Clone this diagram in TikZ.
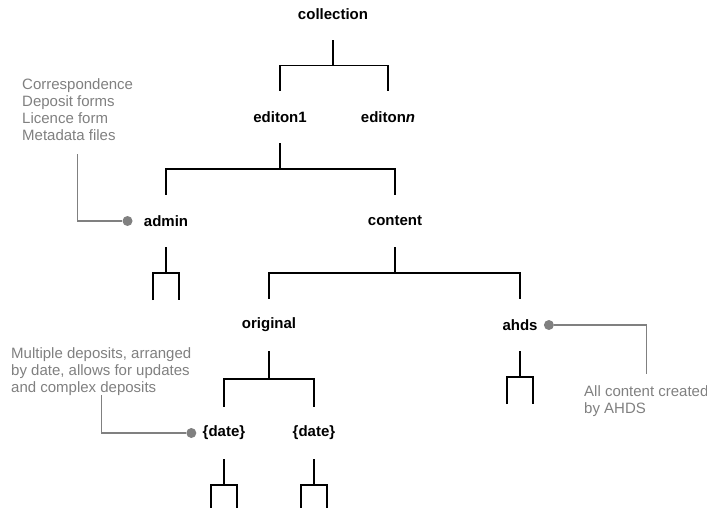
\documentclass[tikz,border=0pt]{standalone}
\usepackage{fontspec}
\setmainfont{Liberation Sans}
\usetikzlibrary{positioning,calc}
\definecolor{notegrey}{RGB}{128,128,128}

\begin{document}
\begin{tikzpicture}[x=1pt,y=-1pt,font=\fontsize{15}{17}\selectfont,
  dir/.style={font=\fontsize{15}{17}\selectfont\bfseries, inner sep=0pt, minimum height=52pt},
  branch/.style={black, line width=1.6pt},
  note/.style={text=notegrey, align=left, inner sep=0pt, anchor=north west},
  pin/.style={notegrey, line width=1.3pt},
  dot/.style={circle, fill=notegrey, inner sep=0pt, minimum size=10pt}]
\useasboundingbox (0,0) rectangle (707,508);

% folders
\node[dir] (coll) at (333,14) {collection};
\node[dir] (ed1) at (280,117) {editon1};
\node[dir] (edn) at (388,117) {editon\textit{n}};
\node[dir] (admin) at (166,221) {admin};
\node[dir] (content) at (395,221) {content};
\node[dir] (original) at (269,325) {original};
\node[dir] (ahds) at (520,325) {ahds};
\node[dir] (date1) at (224,433) {\{date\}};
\node[dir] (date2) at (314,433) {\{date\}};

% branches
\foreach \p/\c in {coll/ed1, coll/edn, ed1/admin, ed1/content, content/original,
                   content/ahds, original/date1, original/date2}
  \draw[branch] (\p.south) |- ($(\p.south)!.5!(\c.north)$) -| (\c.north);

% open sub-folders
\foreach \n/\len in {admin/27, ahds/27, date1/24, date2/24} {
  \draw[branch] (\n.south) -- ++(0,26) coordinate (\n-fork);
  \draw[branch] ($(\n-fork)+(-13,\len)$) |- ($(\n-fork)+(13,0)$) -- ++(0,\len);
}

% notes
\node[note] (admnote) at (22,78) {Correspondence\\Deposit forms\\Licence form\\Metadata files};
\node[note] (datenote) at (11,347) {Multiple deposits, arranged\\by date, allows for updates\\and complex deposits};
\node[note] (ahdsnote) at (584,385) {All content created\\by AHDS};

\node[dot, left=11pt of admin] (admdot) {};
\node[dot, left=6pt of date1] (datedot) {};
\node[dot, right=6pt of ahds] (ahdsdot) {};

\draw[pin] ([yshift=-14pt]admnote.south) |- (admdot);
\draw[pin] (datenote.south) |- (datedot);
\draw[pin] (ahdsdot) -| ([yshift=11pt]ahdsnote.north);
\end{tikzpicture}
\end{document}
